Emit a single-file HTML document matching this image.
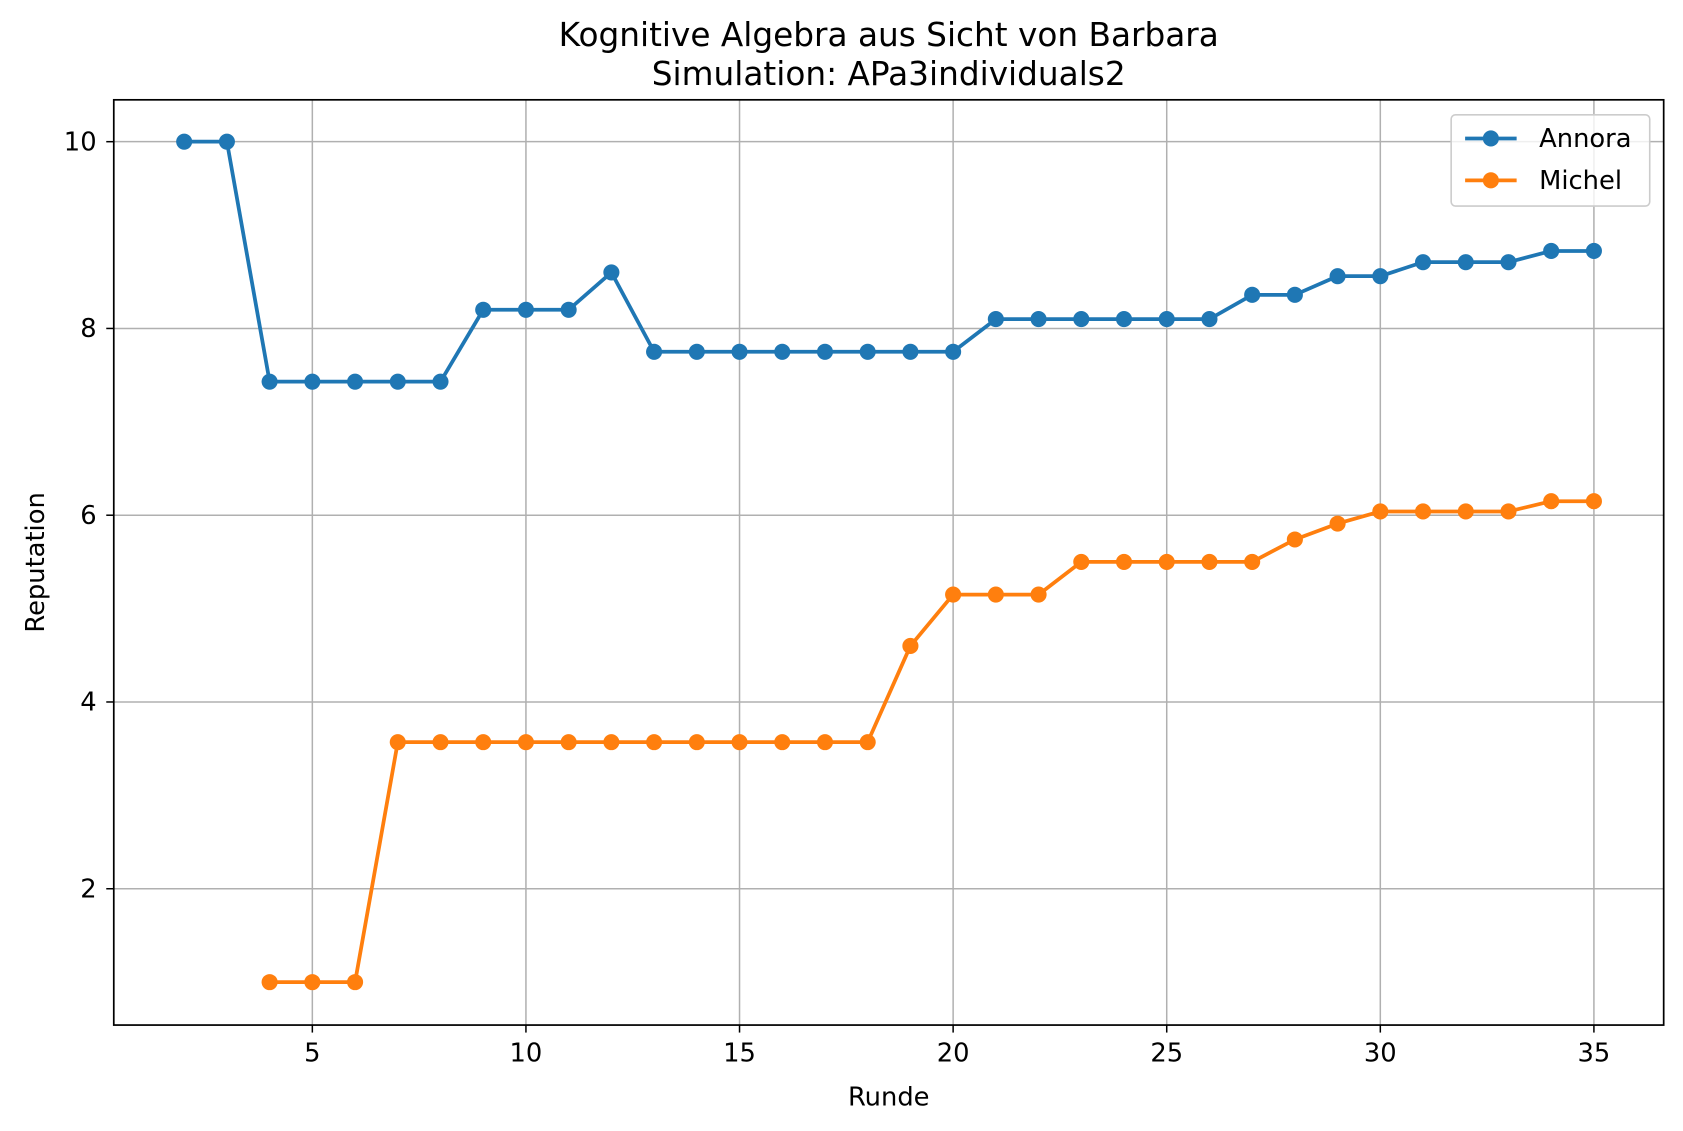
<!DOCTYPE html>
<html><head><meta charset="utf-8"><style>
body{margin:0;background:#fff}
svg{display:block}
svg text{font-family:"DejaVu Sans","Liberation Sans",sans-serif;fill:#000}
</style></head><body>
<svg id="chart" width="1683" height="1131" viewBox="0 0 1568 1053.7" preserveAspectRatio="none" xmlns="http://www.w3.org/2000/svg">
<rect width="1568" height="1054" fill="#fff"/>
<g id="grid"></g>
<g id="series"></g>
<rect x="106" y="93" width="1444" height="862" fill="none" stroke="#000" stroke-width="1.6"/>
<g id="ticks"></g>
<text x="828" y="43" font-size="30.5" text-anchor="middle">Kognitive Algebra aus Sicht von Barbara</text>
<text x="828" y="79" font-size="30.5" text-anchor="middle">Simulation: APa3individuals2</text>
<text x="828" y="1030" font-size="24" text-anchor="middle">Runde</text>
<text x="41" y="524" font-size="24" text-anchor="middle" transform="rotate(-90 41 524)">Reputation</text>
<g>
<rect x="1352" y="107" width="185" height="85" rx="4" fill="#fff" fill-opacity="0.8" stroke="#ccc" stroke-width="1.5"/>
<line x1="1365" y1="129" x2="1413" y2="129" stroke="#1f77b4" stroke-width="3.5"/>
<circle cx="1389" cy="129" r="7.5" fill="#1f77b4"/>
<text x="1434" y="137" font-size="24">Annora</text>
<line x1="1365" y1="168" x2="1413" y2="168" stroke="#ff7f0e" stroke-width="3.5"/>
<circle cx="1389" cy="168" r="7.5" fill="#ff7f0e"/>
<text x="1434" y="176" font-size="24">Michel</text>
</g>
</svg>
<script>
const annoraX = [2,3,4,5,6,7,8,9,10,11,12,13,14,15,16,17,18,19,20,21,22,23,24,25,26,27,28,29,30,31,32,33,34,35];
const annoraY = [10,10,7.43,7.43,7.43,7.43,7.43,8.2,8.2,8.2,8.6,7.75,7.75,7.75,7.75,7.75,7.75,7.75,7.75,8.1,8.1,8.1,8.1,8.1,8.1,8.36,8.36,8.56,8.56,8.71,8.71,8.71,8.83,8.83];
const michelX = [4,5,6,7,8,9,10,11,12,13,14,15,16,17,18,19,20,21,22,23,24,25,26,27,28,29,30,31,32,33,34,35];
const michelY = [1,1,1,3.57,3.57,3.57,3.57,3.57,3.57,3.57,3.57,3.57,3.57,3.57,3.57,4.6,5.15,5.15,5.15,5.5,5.5,5.5,5.5,5.5,5.74,5.91,6.04,6.04,6.04,6.04,6.15,6.15];
const xTicks = [5,10,15,20,25,30,35];
const yTicks = [2,4,6,8,10];

const NS="http://www.w3.org/2000/svg";
const sx = v => 291 + (v-5)*39.8;
const sy = v => 1002 - v*87;
function mk(tag, attrs, parent){const e=document.createElementNS(NS,tag);for(const k in attrs)e.setAttribute(k,attrs[k]);parent.appendChild(e);return e;}
const grid=document.getElementById('grid'), ticks=document.getElementById('ticks'), series=document.getElementById('series');
xTicks.forEach(t=>{
  const g=mk('line',{x1:sx(t),x2:sx(t),y1:93,y2:955,stroke:'#b0b0b0','stroke-width':1.4},grid);
  
  
  const tk=mk('line',{x1:sx(t),x2:sx(t),y1:955,y2:962,stroke:'#000','stroke-width':1.4},ticks);
  
  
  const lb=mk('text',{x:sx(t),y:989,'font-size':24,'text-anchor':'middle'},ticks);
  lb.textContent=t;
  
  
});
yTicks.forEach(t=>{
  const g=mk('line',{x1:106,x2:1550,y1:sy(t),y2:sy(t),stroke:'#b0b0b0','stroke-width':1.4},grid);
  
  
  const tk=mk('line',{x1:99,x2:106,y1:sy(t),y2:sy(t),stroke:'#000','stroke-width':1.4},ticks);
  
  
  const lb=mk('text',{x:90,y:sy(t)+8,'font-size':24,'text-anchor':'end'},ticks);
  lb.textContent=t;
  
  
});
function draw(xs,ys,color,name){
  const pts=xs.map((x,i)=>sx(x)+','+sy(ys[i])).join(' ');
  const pl=mk('polyline',{points:pts,fill:'none',stroke:color,'stroke-width':3.5,'stroke-linejoin':'round'},series);
  
  
  xs.forEach((x,i)=>{
    const c=mk('circle',{cx:sx(x),cy:sy(ys[i]),r:7.5,fill:color},series);
    
    
  });
}
draw(annoraX,annoraY,'#1f77b4','annora');
draw(michelX,michelY,'#ff7f0e','michel');
</script>
</body></html>
